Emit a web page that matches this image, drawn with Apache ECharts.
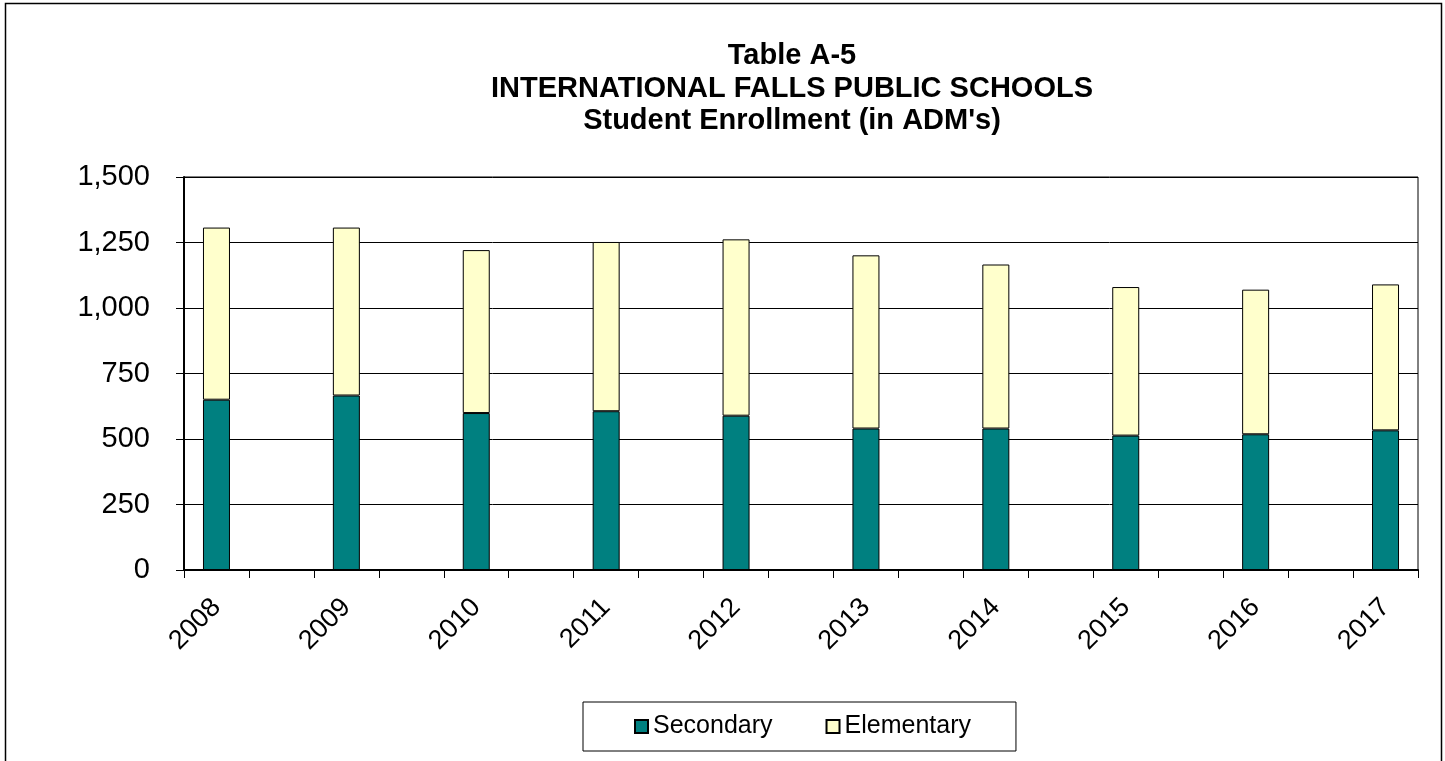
<!DOCTYPE html>
<html>
<head>
<meta charset="utf-8">
<script src="https://cdn.jsdelivr.net/npm/echarts@6/dist/echarts.min.js"></script>
<style>
html,body{margin:0;padding:0;background:#fff;}
#chart{width:1445px;height:761px;}
</style>
</head>
<body>
<div id="chart"></div>
<script>
const years = ['2008','2009','2010','2011','2012','2013','2014','2015','2016','2017'];
const secondary = [650, 666, 599, 606, 589, 540, 540, 513, 518, 533];
const elementary = [657, 641, 622, 646, 673, 661, 626, 567, 552, 557];
const yTicks = [0, 250, 500, 750, 1000, 1250, 1500];

// Excel-style layout: a blank category sits between each year
const cats = [], secData = [], eleData = [];
years.forEach((y, i) => {
  if (i > 0) { cats.push(''); secData.push('-'); eleData.push('-'); }
  cats.push(y); secData.push(secondary[i]); eleData.push(elementary[i]);
});

const FONT = '"Liberation Sans", Arial, sans-serif';
const chart = echarts.init(document.getElementById('chart'), null, {renderer: 'canvas'});
chart.setOption({
  animation: false,
  backgroundColor: '#fff',
  textStyle: {fontFamily: FONT},
  title: {
    text: 'Table A-5\nINTERNATIONAL FALLS PUBLIC SCHOOLS\nStudent Enrollment (in ADM\'s)',
    left: 787, top: 35, textAlign: 'center',
    textStyle: {fontFamily: FONT, fontSize: 29, fontWeight: 'bold', color: '#000', lineHeight: 32.5}
  },
  graphic: [{
    type: 'rect', z: 100, silent: true,
    shape: {x: 5.5, y: 3.5, width: 1436, height: 800},
    style: {fill: 'none', stroke: '#000', lineWidth: 1.5}
  }],
  legend: {
    bottom: 10, left: 583,
    data: ['Secondary', 'Elementary'],
    itemWidth: 13, itemHeight: 13, itemGap: 53,
    icon: 'rect',
    padding: [12, 45, 12, 51],
    borderColor: '#000', borderWidth: 1,
    textStyle: {fontFamily: FONT, fontSize: 25, color: '#000'}
  },
  grid: {
    left: 184, right: 1445 - 1418, top: 177, bottom: 761 - 570,
    show: true, borderColor: '#000', borderWidth: 1
  },
  xAxis: {
    type: 'category', data: cats, boundaryGap: true,
    axisLine: {lineStyle: {color: '#000', width: 2}},
    axisTick: {show: true, length: 8, interval: 0, lineStyle: {color: '#000', width: 1}},
    axisLabel: {interval: 0, rotate: 45, margin: 33, fontSize: 27, color: '#000', fontFamily: FONT}
  },
  yAxis: {
    type: 'value', min: yTicks[0], max: yTicks[yTicks.length - 1], interval: 250,
    axisLine: {show: true, lineStyle: {color: '#000', width: 2}},
    axisTick: {show: true, length: 8, lineStyle: {color: '#000'}},
    splitLine: {show: true, lineStyle: {color: '#000', width: 1}},
    axisLabel: {
      fontSize: 29, color: '#000', margin: 34, fontFamily: FONT,
      formatter: v => v.toLocaleString('en-US')
    }
  },
  series: [
    {
      name: 'Secondary', type: 'bar', stack: 'total', data: secData, barWidth: 27,
      itemStyle: {color: '#008080', borderColor: '#000', borderWidth: 1}
    },
    {
      name: 'Elementary', type: 'bar', stack: 'total', data: eleData, barWidth: 27,
      itemStyle: {color: '#FFFFCC', borderColor: '#000', borderWidth: 1}
    }
  ]
});
</script>
</body>
</html>
